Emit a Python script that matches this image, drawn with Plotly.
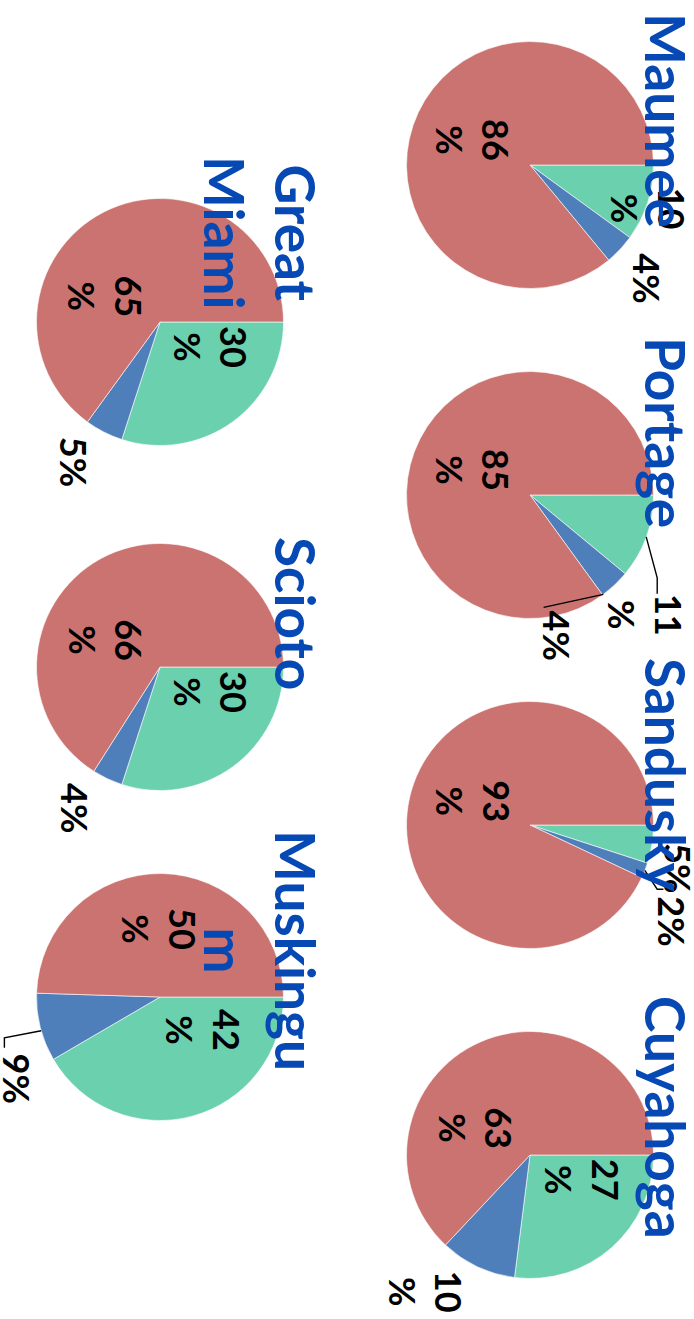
import math
import plotly.graph_objects as go

# ---- data -------------------------------------------------------------
rivers = ["Maumee", "Portage", "Sandusky", "Cuyahoga", "Great Miami", "Scioto", "Muskingum"]
title_text = ["Maumee", "Portage", "Sandusky", "Cuyahoga", "Great<br>Miami", "Scioto", "Muskingu<br>m"]
green_share = [10, 11, 5, 27, 30, 30, 42]
blue_share = [4, 4, 2, 10, 5, 4, 9]
red_share = [86, 85, 93, 63, 65, 66, 50]

# ---- layout / style ---------------------------------------------------
W, H = 694, 1319
R = 123.5
SLICE_COLORS = ["#6BD0AE", "#4F7FBB", "#CB7370"]
TITLE_COLOR = "#0649B4"
FONT = "Lato"

# pie centres in pixels (x, y from top-left)
CENTRES = {
    "Maumee": (530, 165), "Portage": (530, 495), "Sandusky": (530, 825),
    "Cuyahoga": (530, 1155), "Great Miami": (160, 322), "Scioto": (160, 667),
    "Muskingum": (160, 997),
}
# vertical shift of each title relative to its pie centre (px)
TITLE_SHIFT = {
    "Maumee": -45, "Portage": -63, "Sandusky": -50, "Cuyahoga": -38,
    "Great Miami": -89, "Scioto": -54, "Muskingum": -47,
}
# data-label anchor (dx, dy) in radius units for green / blue / red slice
LABEL_AT = {
    "Maumee": [(0.96, 0.35), (0.95, 0.92), (-0.46, -0.20)],
    "Portage": [(0.93, 0.97), (0.22, 1.14), (-0.46, -0.20)],
    "Sandusky": [(1.20, 0.35), (1.15, 0.78), (-0.46, -0.19)],
    "Cuyahoga": [(0.42, 0.20), (-0.84, 1.11), (-0.44, -0.22)],
    "Great Miami": [(0.41, 0.20), (-0.69, 1.13), (-0.44, -0.21)],
    "Scioto": [(0.41, 0.20), (-0.69, 1.14), (-0.44, -0.22)],
    "Muskingum": [(0.35, 0.27), (-1.15, 0.66), (0.0, -0.55)],
}
# leader lines: (river, slice index, position along slice arc, knots in radius units)
LEADERS = [
    ("Portage", 0, 0.5, [(1.03, 0.67), (1.03, 0.80)]),
    ("Portage", 1, 0.97, [(0.11, 0.91)]),
    ("Sandusky", 1, 0.5, [(1.03, 0.52), (1.08, 0.52)]),
    ("Muskingum", 1, 0.45, [(-1.26, 0.33), (-1.26, 0.41)]),
]


def px(x):
    return x / W


def py(y):
    return 1 - y / H


fig = go.Figure()
annotations = []
shapes = []

for i, name in enumerate(rivers):
    cx, cy = CENTRES[name]
    vals = [green_share[i], blue_share[i], red_share[i]]
    fig.add_trace(go.Pie(
        values=vals,
        labels=["green", "blue", "red"],
        marker=dict(colors=SLICE_COLORS, line=dict(color="white", width=0.6)),
        sort=False, direction="clockwise", rotation=90,
        textinfo="none", textposition="none", hoverinfo="label+percent",
        showlegend=False,
        domain=dict(x=[px(cx - R), px(cx + R)], y=[py(cy + R), py(cy - R)]),
    ))
    for k, v in enumerate(vals):
        dx, dy = LABEL_AT[name][k]
        txt = f"{v}<br>%" if v >= 10 else f"{v}%"
        annotations.append(dict(
            x=px(cx + dx * R), y=py(cy + dy * R), xref="paper", yref="paper",
            text=txt, showarrow=False, textangle=90,
            xanchor="center", yanchor="middle",
            font=dict(family=FONT, size=36, color="black", weight="bold"),
        ))

# leader lines from slice edge to the outside labels
for name, k, frac, knots in LEADERS:
    i = rivers.index(name)
    cx, cy = CENTRES[name]
    vals = [green_share[i], blue_share[i], red_share[i]]
    total = sum(vals)
    ang = 2 * math.pi * (sum(vals[:k]) + frac * vals[k]) / total
    pts = [(cx + R * math.cos(ang), cy + R * math.sin(ang))]
    pts += [(cx + a * R, cy + b * R) for a, b in knots]
    path = "M " + " L ".join(f"{px(x):.5f},{py(y):.5f}" for x, y in pts)
    shapes.append(dict(type="path", xref="paper", yref="paper", path=path,
                       line=dict(color="black", width=1.4)))

# chart titles, drawn last so they sit on top
for i, name in enumerate(rivers):
    cx, cy = CENTRES[name]
    annotations.append(dict(
        x=px(cx + 171), y=py(cy + TITLE_SHIFT[name]), xref="paper", yref="paper",
        text=title_text[i], showarrow=False, textangle=90,
        xanchor="right", yanchor="middle",
        font=dict(family=FONT, size=55, color=TITLE_COLOR, weight="bold"),
    ))

fig.update_layout(
    width=W, height=H,
    margin=dict(l=0, r=0, t=0, b=0),
    paper_bgcolor="white", plot_bgcolor="white",
    annotations=annotations, shapes=shapes,
)

fig.write_html("out.html")
